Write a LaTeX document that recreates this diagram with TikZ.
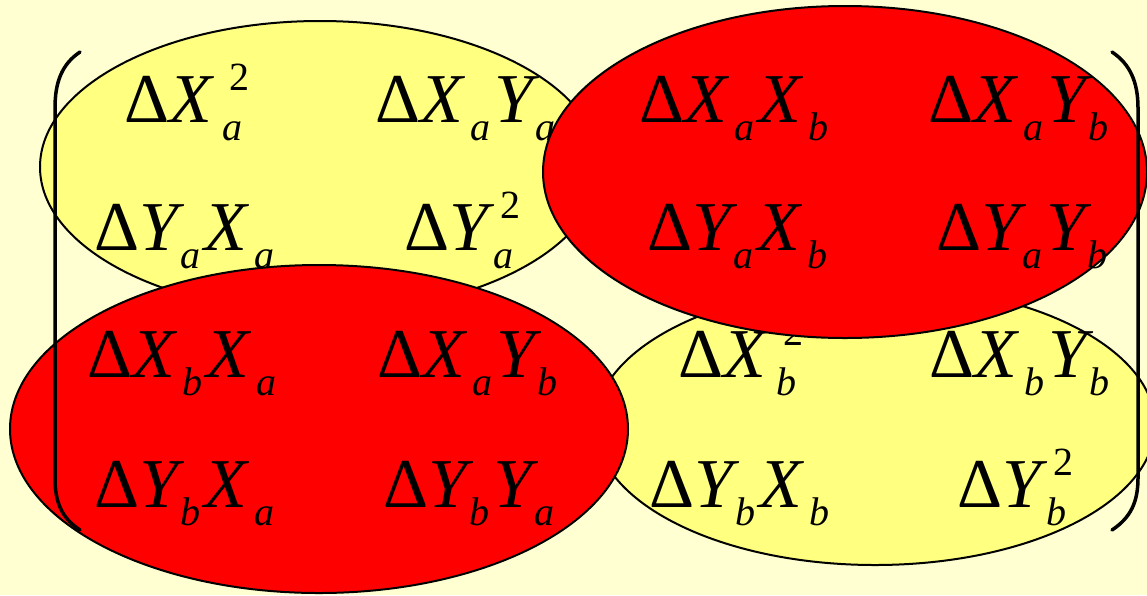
\documentclass[tikz,border=0pt]{standalone}
\usepackage{fontspec}
\setmainfont{Liberation Serif}
\usetikzlibrary{shapes.geometric}
\definecolor{bgyel}{RGB}{255,255,210}
\definecolor{elyel}{RGB}{255,255,128}
\definecolor{elred}{RGB}{255,0,0}
\newcommand\subf{\fontsize{40}{40}\selectfont\itshape}
\newcommand\XX{\textit{X}\kern5pt}
\newcommand\YY{\textit{Y}\kern-4pt}
\newcommand\Sb[1]{\raisebox{-18pt}{\subf #1}\kern4pt}
\newcommand\SbSp[2]{\kern3pt\rlap{\raisebox{-18pt}{\subf #1}}\kern7pt\raisebox{32pt}{\fontsize{40}{40}\selectfont #2}}
\tikzset{
  blob/.style={ellipse, draw=black, line width=2pt, inner sep=0pt},
  yblob/.style={blob, fill=elyel},
  rblob/.style={blob, fill=elred},
  term/.style={anchor=base west, inner sep=0pt, font=\fontsize{70}{70}\selectfont},
  paren/.style={line width=3.5pt, line cap=round}
}
\begin{document}
\begin{tikzpicture}[x=1pt,y=-1pt]
\fill[bgyel] (0,0) rectangle (1147,595);
\useasboundingbox (0,0) rectangle (1147,595);
% yellow top-left
\node[yblob, minimum width=560pt, minimum height=292pt] (tl) at (320,167) {};
\node[term] (t11) at (124,122) {Δ\XX\SbSp{a}{2}};
\node[term] (t12) at (375,122) {Δ\XX\Sb{a}\YY\Sb{a}};
\node[term] (t21) at (94,250) {Δ\YY\Sb{a}\XX\Sb{a}};
\node[term] (t22) at (404,250) {Δ\YY\SbSp{a}{2}};
% yellow bottom-right
\node[yblob, minimum width=560pt, minimum height=280pt] (br) at (875,425) {};
\node[term] (t33) at (678,377) {Δ\XX\SbSp{b}{2}};
\node[term] (t34) at (929,377) {Δ\XX\Sb{b}\YY\Sb{b}};
\node[term] (t43) at (649,507) {Δ\YY\Sb{b}\XX\Sb{b}};
\node[term] (t44) at (957,507) {Δ\YY\SbSp{b}{2}};
% red top-right
\node[rblob, minimum width=604pt, minimum height=332pt] (tr) at (845,172) {};
\node[term] (t13) at (639,122) {Δ\XX\Sb{a}\XX\Sb{b}};
\node[term] (t14) at (928,122) {Δ\XX\Sb{a}\YY\Sb{b}};
\node[term] (t23) at (647,250) {Δ\YY\Sb{a}\XX\Sb{b}};
\node[term] (t24) at (936,250) {Δ\YY\Sb{a}\YY\Sb{b}};
% red bottom-left
\node[rblob, minimum width=618pt, minimum height=328pt] (bl) at (319,429) {};
\node[term] (t31) at (87,377) {Δ\XX\Sb{b}\XX\Sb{a}};
\node[term] (t32) at (377,377) {Δ\XX\Sb{a}\YY\Sb{b}};
\node[term] (t41) at (94,507) {Δ\YY\Sb{b}\XX\Sb{a}};
\node[term] (t42) at (383,507) {Δ\YY\Sb{b}\YY\Sb{a}};
% matrix parentheses
\draw[paren] (80,52) .. controls (62,64) and (55,82) .. (55,108) -- (55,478) .. controls (55,503) and (62,518) .. (80,530);
\draw[paren] (1112,52) .. controls (1130,64) and (1138,82) .. (1138,108) -- (1138,478) .. controls (1138,503) and (1130,518) .. (1112,530);
\end{tikzpicture}
\end{document}
